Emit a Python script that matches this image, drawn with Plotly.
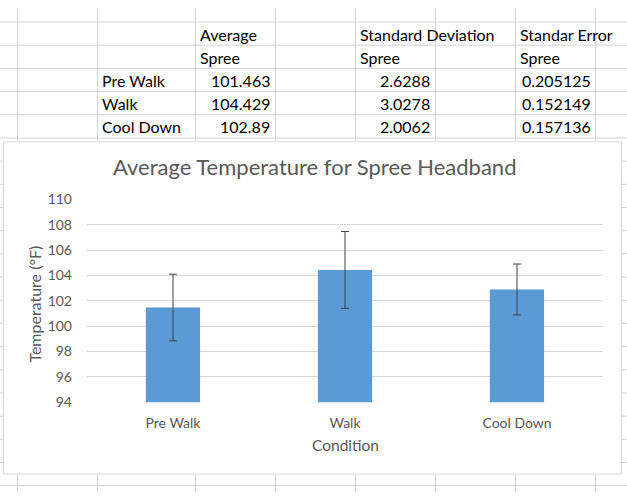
import plotly.graph_objects as go

# ---- data ----
categories = ["Pre Walk", "Walk", "Cool Down"]
means = [101.463, 104.429, 102.89]
std_devs = [2.6288, 3.0278, 2.0062]
std_errs = [0.205125, 0.152149, 0.157136]
y_ticks = [94, 96, 98, 100, 102, 104, 106, 108, 110]

W, H = 627, 500
def px(x):
    return x / W
def py(y):
    return 1 - y / H

FONT = "Lato"
GRID = "#d4d4d4"
TXT = "#595959"

fig = go.Figure()
fig.add_trace(go.Bar(
    x=categories, y=means,
    marker=dict(color="#5B9BD5", line=dict(width=0)),
    width=0.315,
    error_y=dict(type="data", array=std_devs, visible=True,
                 color="#404040", thickness=1, width=4),
    showlegend=False,
))

shapes = []
# spreadsheet grid
col_lines = [17, 97, 195, 275, 355, 435, 515, 595]
for x in col_lines:
    shapes.append(dict(type="line", xref="paper", yref="paper",
                       x0=px(x + 0.5), x1=px(x + 0.5), y0=0, y1=1,
                       line=dict(color=GRID, width=1), layer="below"))
for k in range(21):
    y = 13 + 24 * k
    shapes.append(dict(type="line", xref="paper", yref="paper",
                       x0=0, x1=1, y0=py(y + 0.5), y1=py(y + 0.5),
                       line=dict(color=GRID, width=1), layer="below"))
# chart area
shapes.append(dict(type="rect", xref="paper", yref="paper",
                   x0=px(3.5), x1=px(621.5), y0=py(481.5), y1=py(137.5),
                   fillcolor="white", line=dict(color="#d9d9d9", width=1),
                   layer="below"))

ann = []
def cell(text, x, y, anchor="left", size=16, color="black"):
    ann.append(dict(text=text, x=px(x), y=py(y), xref="paper", yref="paper",
                    xanchor=anchor, yanchor="middle", showarrow=False,
                    font=dict(family=FONT, size=size, color=color)))

# table
cell("Average", 198, 26)
cell("Spree", 198, 50)
cell("Standard Deviation", 358, 26)
cell("Spree", 358, 50)
cell("Standar Error", 518, 26)
cell("Spree", 518, 50)
for i, c in enumerate(categories):
    yy = 74 + 24 * i
    cell(c, 100, yy)
    cell(str(means[i]), 272, yy, anchor="right")
    cell(str(std_devs[i]), 432, yy, anchor="right")
    cell(str(std_errs[i]), 593, yy, anchor="right")

# chart texts
cell("Average Temperature for Spree Headband", 314, 163, anchor="center", size=22, color=TXT)
cell("Condition", 345, 451, anchor="center", size=15.5, color=TXT)
ann.append(dict(text="Temperature (°F)", x=px(35), y=py(306), xref="paper", yref="paper",
                xanchor="center", yanchor="middle", showarrow=False, textangle=-90,
                font=dict(family=FONT, size=16, color=TXT)))

fig.update_layout(
    width=W, height=H,
    margin=dict(l=0, r=0, t=0, b=0),
    paper_bgcolor="white",
    plot_bgcolor="rgba(0,0,0,0)",
    shapes=shapes,
    annotations=ann,
    xaxis=dict(domain=[px(87), px(603)], showgrid=False, showline=False,
               ticks="", ticklabelstandoff=11,
               tickfont=dict(family=FONT, size=14, color=TXT), fixedrange=True),
    yaxis=dict(domain=[py(407), py(197)], range=[94, 110], tickvals=y_ticks,
               showgrid=True, gridcolor="#d9d9d9", gridwidth=1,
               zeroline=False, showline=False, ticks="", ticklabelstandoff=14,
               tickfont=dict(family=FONT, size=14, color=TXT), fixedrange=True),
)

fig.write_html("out.html",
               config={"displayModeBar": False},
               post_script="document.body.style.margin='0';document.body.style.overflow='hidden';")
